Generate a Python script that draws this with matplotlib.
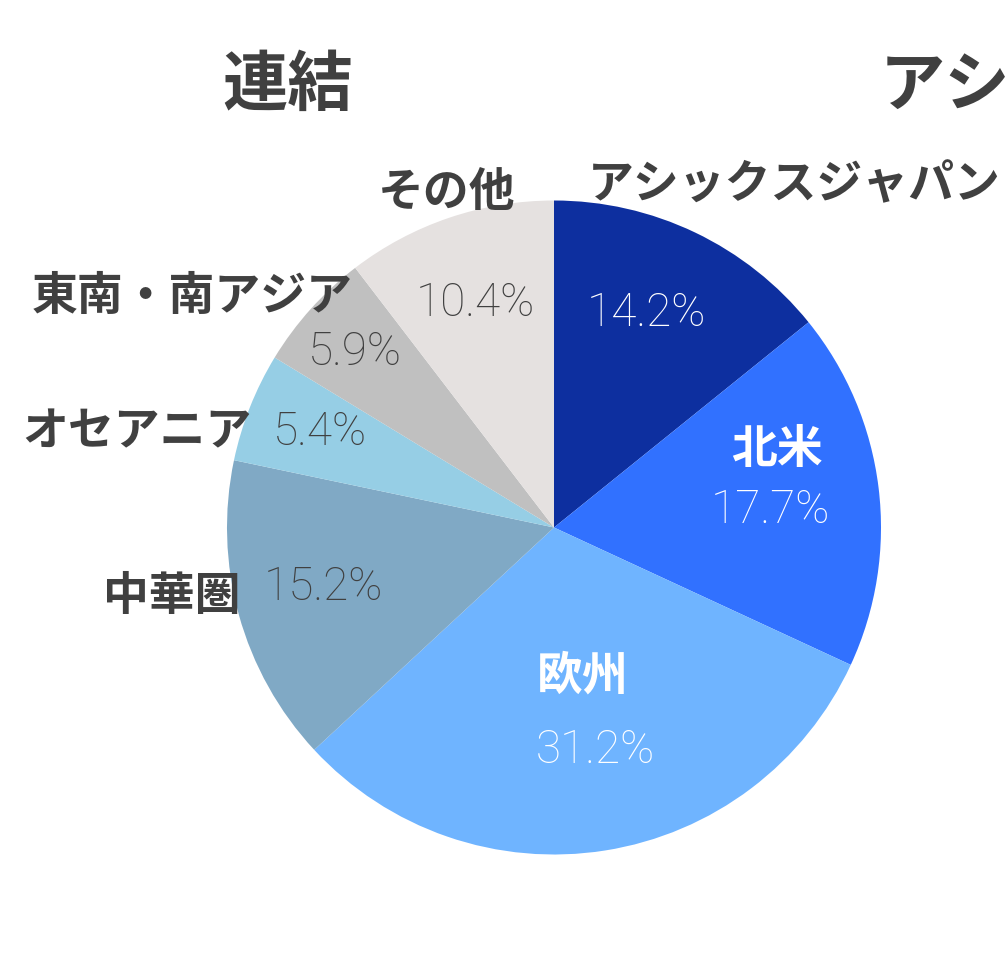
import matplotlib
matplotlib.use("Agg")
import matplotlib.pyplot as plt

plt.rcParams['font.family'] = ['Noto Sans CJK JP', 'DejaVu Sans']

# data
regions = ["アシックスジャパン", "北米", "欧州", "中華圏", "オセアニア", "東南・南アジア", "その他"]
shares = [14.2, 17.7, 31.2, 15.2, 5.4, 5.9, 10.4]
colors = ["#0D2F9F", "#3171FF", "#6FB4FF", "#80A9C5", "#96CEE5", "#C0C0C0", "#E5E1E0"]
title_left = "連結"
title_right = "アシックスジャパン"

W, H = 1008, 971
fig = plt.figure(figsize=(W / 100, H / 100), dpi=100)
ax = fig.add_axes([0, 0, 1, 1])

cx, cy, R = 554, H - 527.5, 327
ax.pie(shares, colors=colors, startangle=90, counterclock=False,
       center=(cx, cy), radius=R, frame=True,
       wedgeprops={'linewidth': 0})
ax.set_xlim(0, W)
ax.set_ylim(0, H)
ax.axis('off')

dark = "#404040"
# label / percentage positions (pixel coords, y from top)
label_pos = [(588, 185, 'left'), (777, 450, 'center'), (583, 677, 'center'),
             (241, 597, 'right'), (252, 432, 'right'), (353, 297, 'right'),
             (447, 193, 'center')]
pct_pos = [(646, 313), (770, 510), (595, 750), (323, 587), (320, 432),
           (355, 352), (475, 303)]
label_colors = [dark, "white", "white", dark, dark, dark, dark]
pct_colors = ["white", "white", "white", dark, dark, dark, dark]

for i, name in enumerate(regions):
    lx, ly, ha = label_pos[i]
    ax.text(lx, H - ly, name, ha=ha, va='center', fontsize=33,
            fontweight='bold', color=label_colors[i])
    px, py = pct_pos[i]
    ax.text(px, H - py, f"{shares[i]:.1f}%", ha='center', va='center',
            fontsize=33, fontweight='light', color=pct_colors[i],
            family=['Roboto', 'DejaVu Sans'])

ax.text(288, H - 85, title_left, ha='center', va='center', fontsize=47,
        fontweight='bold', color=dark)
ax.text(880, H - 85, title_right, ha='left', va='center', fontsize=47,
        fontweight='bold', color=dark)

fig.savefig("out.png", dpi=100)
